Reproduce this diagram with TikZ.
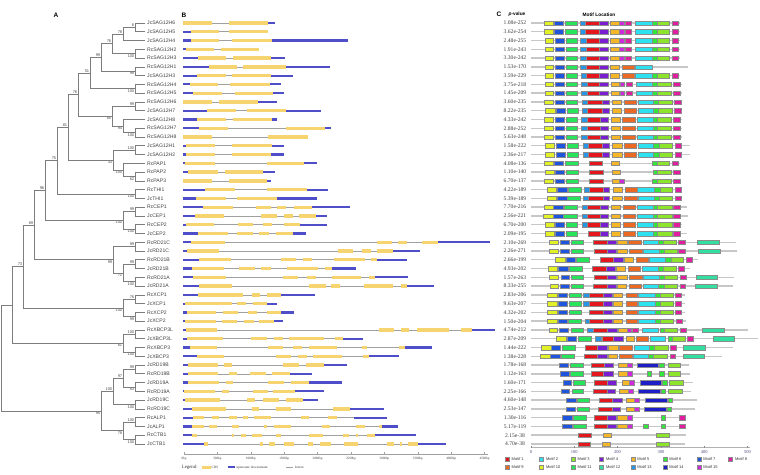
\documentclass[tikz,border=0pt]{standalone}
\usepackage{fontspec}
\setmainfont{Liberation Sans}
\newfontfamily\pvfont{Liberation Serif}
\usepackage{tikz}

\definecolor{treegray}{RGB}{125,125,125}
\definecolor{introngray}{RGB}{160,160,160}
\definecolor{utrblue}{RGB}{78,78,200}
\definecolor{cdsyellow}{RGB}{246,212,112}
\definecolor{mot1}{RGB}{228,22,30}
\definecolor{mot2}{RGB}{45,225,240}
\definecolor{mot3}{RGB}{140,228,45}
\definecolor{mot4}{RGB}{122,30,210}
\definecolor{mot5}{RGB}{245,182,40}
\definecolor{mot6}{RGB}{50,230,60}
\definecolor{mot7}{RGB}{30,85,220}
\definecolor{mot8}{RGB}{226,30,160}
\definecolor{mot9}{RGB}{236,105,35}
\definecolor{mot10}{RGB}{226,240,40}
\definecolor{mot11}{RGB}{40,228,90}
\definecolor{mot12}{RGB}{50,222,160}
\definecolor{mot13}{RGB}{40,150,228}
\definecolor{mot14}{RGB}{30,30,200}
\definecolor{mot15}{RGB}{208,40,220}

\begin{document}
\begin{tikzpicture}[
    x=1pt, y=-1pt,
    font=\fontsize{5.1}{6}\selectfont,
    branch/.style={draw=treegray, line width=0.7pt},
    leaf/.style={anchor=west, inner xsep=2pt, inner ysep=0pt, text=black!75},
    bs/.style={font=\fontsize{4}{4.5}\selectfont, inner sep=0.6pt, text=black!70},
    panel/.style={font=\fontsize{6.5}{7}\selectfont\bfseries, inner sep=0pt},
    head/.style={font=\fontsize{4.8}{5}\selectfont\bfseries, inner sep=0pt},
    intron/.style={draw=introngray, line width=0.6pt},
    utr/.style={draw=utrblue, line width=2.2pt},
    cds/.style={draw=cdsyellow, line width=3.3pt},
    pval/.style={font=\pvfont\fontsize{5.6}{6}\selectfont, text=black!75, inner sep=0pt},
    bpl/.style={font=\pvfont\fontsize{3.3}{4}\selectfont, text=black!75, inner sep=0pt},
    legl/.style={font=\pvfont\fontsize{3.4}{4}\selectfont, text=black!80, anchor=west, inner sep=0pt},
    mline/.style={draw=black!22, line width=1.4pt},
    mbox/.style={draw=black!45, line width=0.3pt},
    mleg/.style={font=\fontsize{4}{4.5}\selectfont, text=black!80, anchor=west, inner sep=0pt},
    axl/.style={font=\pvfont\fontsize{4.5}{5}\selectfont, text=blue!30!black!70, inner sep=0pt}
  ]
  \useasboundingbox[fill=white] (0,0) rectangle (760,474);

  % panel A: tree
  \node[panel] (lblA) at (56,15) {A};
  \foreach \nm [count=\i] in {JcSAG12H6,JcSAG12H5,JcSAG12H4,RcSAG12H2,RcSAG12H3,RcSAG12H1,JcSAG12H3,
      RcSAG12H4,RcSAG12H5,RcSAG12H6,JcSAG12H7,JcSAG12H8,RcSAG12H7,RcSAG12H8,JcSAG12H1,JcSAG12H2,
      RcPAP1,RcPAP2,RcPAP3,RcTHI1,JcTHI1,RcCEP1,JcCEP1,RcCEP2,JcCEP2,RcRD21C,JcRD21C,RcRD21B,JcRD21B,
      RcRD21A,JcRD21A,RcXCP1,JcXCP1,RcXCP2,JcXCP2,RcXBCP3L,JcXBCP3L,RcXBCP3,JcXBCP3,JcRD19B,RcRD19B,
      JcRD19A,RcRD19A,JcRD19C,RcRD19C,RcALP1,JcALP1,RcCTB1,JcCTB1}
    \node[leaf] (\nm) at (145,{23+(\i-1)*8.77}) {\nm};

  \foreach \n/\x/\y/\b/\an in {a1/135/27.4/6/south east, a2/123/34/78/south east, a3/135/53.7/100/north east,
      a4/112/43.8/76/south east, a5/135/71.3/99/north east, a6/101/57.5/99/south east,
      a7/135/88.8/100/north east, a8/90/73.2/51/south east, b1/135/106.3/99/south east,
      b2/135/132.6/100/north east, b3/123/126/94/north east, b4/112/116.2/85/north east,
      ab/78/94.7/76/south east, c1/135/150.2/100/south east, d1/135/176.5/62/north east,
      d2/123/169.9/100/north east, cd/113/160.1/33/north east, abcd/68/127.4/81/south east,
      t1/135/194/100/north east, abt/57/160.7/75/south east, e1/135/211.6/99/south east,
      e2/135/229.1/100/north east, e3/123/220.3/100/north east, abte/45/190.5/96/south east,
      f1/135/246.7/99/south east, f2/135/264.2/99/south east, f3/135/281.7/100/north east,
      f4/123/273/71/north east, f5/113/259.8/99/north east, g1/34/225.2/69/south east,
      h1/135/299.3/76/south east, h2/135/316.8/99/north east, h3/123/308/100/north east,
      g2/23/266.6/73/south east, i1/135/334.3/100/south east, i2/135/351.9/100/north east,
      i3/123/343.1/61/north east, j1/135/369.4/99/south east, j2/135/387/83/north east,
      j3/123/378.2/97/south east, j4/135/404.5/100/north east, j5/113/391.4/100/south east,
      k1/135/422/100/south east, k2/135/439.6/100/north east, k3/123/430.8/78/north east,
      jk/101/411.1/95/north east}
    \path (\x,\y) coordinate (\n) node[bs, anchor=\an] (bs\n) {\b};
  \coordinate (g3) at (12,304.9);
  \coordinate (root) at (1,358);

  \foreach \p/\c in {a1/JcSAG12H6, a1/JcSAG12H5, a2/a1, a2/JcSAG12H4, a3/RcSAG12H2, a3/RcSAG12H3,
      a4/a2, a4/a3, a5/RcSAG12H1, a5/JcSAG12H3, a6/a4, a6/a5, a7/RcSAG12H4, a7/RcSAG12H5, a8/a6, a8/a7,
      b1/RcSAG12H6, b1/JcSAG12H7, b2/RcSAG12H7, b2/RcSAG12H8, b3/JcSAG12H8, b3/b2, b4/b1, b4/b3,
      ab/a8, ab/b4, c1/JcSAG12H1, c1/JcSAG12H2, d1/RcPAP2, d1/RcPAP3, d2/RcPAP1, d2/d1, cd/c1, cd/d2,
      abcd/ab, abcd/cd, t1/RcTHI1, t1/JcTHI1, abt/abcd, abt/t1, e1/RcCEP1, e1/JcCEP1, e2/RcCEP2,
      e2/JcCEP2, e3/e1, e3/e2, abte/abt, abte/e3, f1/RcRD21C, f1/JcRD21C, f2/RcRD21B, f2/JcRD21B,
      f3/RcRD21A, f3/JcRD21A, f4/f2, f4/f3, f5/f1, f5/f4, g1/abte, g1/f5, h1/RcXCP1, h1/JcXCP1,
      h2/RcXCP2, h2/JcXCP2, h3/h1, h3/h2, g2/g1, g2/h3, i1/RcXBCP3L, i1/JcXBCP3L, i2/RcXBCP3,
      i2/JcXBCP3, i3/i1, i3/i2, g3/g2, g3/i3, j1/JcRD19B, j1/RcRD19B, j2/JcRD19A, j2/RcRD19A, j3/j1,
      j3/j2, j4/JcRD19C, j4/RcRD19C, j5/j3, j5/j4, k1/RcALP1, k1/JcALP1, k2/RcCTB1, k2/JcCTB1,
      k3/k1, k3/k2, jk/j5, jk/k3, root/g3, root/jk}
    \draw[branch] (\p) |- (\c);

  % panel B: gene structures
  \node[panel, anchor=west] (lblB) at (181.5,15) {B};
  \foreach \i/\e/\segs in {
      1/275/{cds/183.3/211.7,cds/229/267.7,utr/267.7/275},
      2/267.7/{utr/183.3/191,cds/191/219.3,cds/229/267.7},
      3/348.3/{utr/183.3/190.7,cds/190.7/219,cds/232.3/271.7,utr/271.7/348.3},
      4/259/{utr/183.3/186,cds/186/214.3,cds/220.7/259},
      5/285.3/{utr/183.3/198.3,cds/198.3/226,cds/232.7/271,utr/271/285.3},
      6/330/{utr/183.3/209.3,cds/209.3/237.3,cds/243.3/286,utr/286/330},
      7/292.7/{utr/183.3/197.3,cds/197.3/226,cds/232.3/271,utr/271/292.7},
      8/280.7/{utr/183.3/190,cds/190/218.3,cds/230/270,utr/270/280.7},
      9/284.3/{utr/183.3/193.3,cds/193.3/221.7,cds/235/273.3,utr/273.3/284.3},
      10/277/{cds/183.3/211.7,cds/219.3/257.7,utr/257.7/277},
      11/321/{utr/183.3/207.3,cds/207.3/236,cds/246.7/286,utr/286/321},
      12/276.7/{utr/183.3/196.7,cds/196.7/225.7,cds/232.7/271.7,utr/271.7/276.7},
      13/330.7/{utr/183.3/199,cds/199/227.7,cds/286/325,utr/325/330.7},
      14/307.7/{cds/183.3/211.7,cds/268.3/307.7},
      15/284/{utr/183.3/186,cds/186/215.3,cds/232.3/271.7,utr/271.7/284},
      16/284/{utr/183.3/186,cds/186/215.3,cds/231.7/271,utr/271/284},
      17/316.7/{utr/183.3/184.7,cds/184.7/214.7,cds/266.7/304.3,utr/304.3/316.7},
      18/275/{utr/183.3/188.3,cds/188.3/217.7,cds/225/262.7,utr/262.7/275},
      19/270.7/{cds/183.3/212.3,cds/229.3/267.3,utr/267.3/270.7},
      20/327.7/{utr/183.3/205,cds/205/235,cds/267.3/306.7,utr/306.7/327.7},
      21/317.3/{utr/183.3/196,cds/196/225.7,cds/237.3/277.3,utr/277.3/317.3},
      22/350/{utr/183.3/203.3,cds/203.3/232.7,cds/256/271,cds/277.3/286,cds/294.3/311.7,utr/311.7/350},
      23/327.3/{utr/183.3/195,cds/195/224,cds/261/276.7,cds/284.3/293.3,cds/299/316,utr/316/327.3},
      24/327.3/{utr/183.3/186,cds/186/214.3,cds/238.3/253.3,cds/262.7/272.3,cds/284/300,utr/300/327.3},
      25/305.7/{utr/183.3/198.3,cds/198.3/227.7,cds/236.7/252.7,cds/259.3/269.3,cds/276/292.7,utr/292.7/305.7},
      26/490/{utr/183.3/191,cds/191/225,cds/376.7/391.7,cds/398.3/406.7,cds/422.3/438.3,utr/438.3/490},
      27/420/{utr/183.3/187.3,cds/187.3/219.3,cds/338.3/353.3,cds/361.7/370.7,cds/377.3/393.3,utr/393.3/420},
      28/406.7/{utr/183.3/199.3,cds/199.3/230.7,cds/281/296,cds/302.7/311.7,cds/334.3/365,cds/371/376.7,utr/376.7/406.7},
      29/356/{utr/183.3/191.7,cds/191.7/224,cds/239.3/255,cds/261/270.7,cds/287.3/318.3,cds/325/331.7,utr/331.7/356},
      30/407.7/{utr/183.3/193.3,cds/193.3/225.7,cds/282.7/298.3,cds/306.7/316,cds/331.7/361,cds/369.3/375,utr/375/407.7},
      31/434.3/{utr/183.3/199.3,cds/199.3/232,cds/309.3/326,cds/331/340,cds/364.3/393.3,cds/401/407.3,utr/407.3/434.3},
      32/315/{utr/183.3/198.3,cds/198.3/243.3,cds/251.7/260,cds/267.3/280.7,utr/280.7/315},
      33/276.7/{utr/183.3/185,cds/185/231.7,cds/236.7/246,cds/252.7/267.3,utr/267.3/276.7},
      34/294/{utr/183.3/186.7,cds/186.7/216,cds/222.7/238.3,cds/247.7/256.7,cds/267.3/281,utr/281/294},
      35/282.7/{utr/183.3/185,cds/185/215.7,cds/221.7/237.3,cds/244.3/254,cds/259.3/274,utr/274/282.7},
      36/495/{utr/183.3/186,cds/186/217.3,cds/379.3/394,cds/401/409.3,cds/417.3/449.3,cds/461/472,utr/472/495},
      37/363.3/{utr/183.3/187.3,cds/187.3/223.3,cds/251/266.7,cds/274/282.7,cds/289.3/324,cds/335/343.3,utr/343.3/363.3},
      38/431.7/{utr/183.3/190,cds/190/216.7,cds/268.3/283.3,cds/293.3/302.3,cds/309.3/336.7,cds/361.7/367.3,cds/399.3/405,utr/405/431.7},
      39/399.3/{utr/183.3/196.7,cds/196.7/224.3,cds/276/291,cds/297.7/306.7,cds/313.3/342.3,cds/362.7/369,utr/369/399.3},
      40/347.3/{utr/183.3/188.3,cds/188.3/218.3,cds/224.3/231.7,cds/283.3/299,cds/305.7/324,utr/324/347.3},
      41/311.7/{utr/183.3/188.3,cds/188.3/217.7,cds/229.3/236.7,cds/250/266,cds/272.3/290,utr/290/311.7},
      42/341.7/{utr/183.3/188.3,cds/188.3/219.3,cds/226/233.3,cds/268.3/284.3,cds/291/309.3,utr/309.3/341.7},
      43/324/{utr/183.3/184,cds/184/215,cds/221.7/229.3,cds/253.3/268.3,cds/272.7/295,utr/295/324},
      44/318.3/{utr/183.3/185,cds/185/220,cds/246.7/255,cds/263.3/279,cds/286/303.3,utr/303.3/318.3},
      45/384/{utr/183.3/191.7,cds/191.7/225.7,cds/251.7/259.3,cds/275.7/290.7,cds/332.7/350,utr/350/384},
      46/386.7/{utr/183.3/192.7,cds/192.7/204,cds/211.7/219.3,cds/229.3/237.3,cds/243.3/248.3,cds/254/271,cds/301/309.3,cds/328.3/337.3,utr/354/386.7},
      47/398.3/{utr/183.3/191.7,cds/191.7/204,cds/209.3/217.3,cds/232.3/239.3,cds/264/267.3,cds/274/291,cds/322.3/330,cds/356/365,cds/379.3/381.7,utr/381.7/398.3},
      48/415.7/{utr/183.3/191.7,cds/191.7/196.7,cds/231.7/234.3,cds/241/246,cds/252.3/261.7,cds/276/281,cds/309.3/322.7,cds/343.3/349.3,cds/356/358.3,cds/366.7/375,utr/375/415.7},
      49/446/{utr/183.3/204,cds/204/207.7,cds/260/263.3,cds/269.3/275,cds/284/294.3,cds/307.7/312.7,cds/320/331,cds/344.3/358.3,cds/386.7/394,cds/400/401.7,cds/408.3/417.7,utr/417.7/446}}
  {
    \pgfmathsetmacro\yy{23+(\i-1)*8.77}
    \draw[intron] (183.3,\yy) -- (\e,\yy);
    \foreach \t/\a/\b in \segs \draw[\t] (\a,\yy) -- (\b,\yy);
  }

  % bp scale and legend
  \draw[introngray, line width=0.5pt] (184,454) -- (488,454);
  \foreach \k in {0,...,9} {
    \pgfmathtruncatemacro\bp{500*\k}
    \draw[introngray, line width=0.4pt] ({184+33.4*\k},452) -- ({184+33.4*\k},454);
    \node[bpl] (bp\k) at ({184+33.4*\k},458.3) {\bp bp};
  }
  \node[legl, font=\pvfont\fontsize{4.8}{5}\selectfont] (legB) at (181.7,467.3) {Legend:};
  \draw[cds] (201.7,467.3) -- (210.7,467.3);
  \node[legl] (legcds) at (211.5,467.3) {CDS};
  \draw[utr] (227.7,467.3) -- (235,467.3);
  \node[legl] (legutr) at (236.5,467.3) {upstream/ downstream};
  \draw[intron] (286,467.3) -- (293.3,467.3);
  \node[legl] (legintron) at (295,467.3) {Intron};

  % panel C: p-values and motifs
  \node[panel, anchor=west] (lblC) at (496.5,14.5) {C};
  \node[head] (pvhead) at (517,14.5) {\textit{p}-value};
  \node[head] (mlhead) at (599,14.5) {Motif Location};
  \foreach \pv [count=\i] in {1.08e-252,3.62e-254,2.48e-255,1.91e-243,3.30e-242,1.53e-170,3.59e-229,
      3.75e-218,1.45e-209,3.60e-235,8.22e-235,4.33e-242,2.88e-252,5.63e-248,1.58e-222,2.36e-217,
      4.08e-136,1.10e-140,6.70e-137,4.22e-189,5.39e-189,7.70e-216,2.56e-221,6.70e-200,2.09e-195,
      2.10e-269,2.26e-271,2.66e-199,4.93e-202,1.57e-263,8.33e-255,2.83e-206,9.63e-207,4.32e-202,
      1.50e-204,4.74e-212,2.87e-209,1.44e-222,1.38e-228,1.78e-168,1.12e-163,1.60e-171,2.25e-166,
      4.60e-148,2.53e-147,1.30e-116,5.17e-119,2.15e-38,4.70e-38}
    \node[pval] (pv\i) at (515,{23+(\i-1)*8.77}) {\pv};

  \foreach \i/\e/\mots in {
      1/680/{10/544/553.3,7/554.3/563.3,11/565/577.3,13/580/585,1/585/599.3,4/599.3/608.3,5/610/619,15/619/624,8/625/631,2/635/651.7,6/651.7/656.7,3/656.7/669.3,8/671.7/678.3},
      2/680/{10/544/553.3,7/554.3/563.3,11/565/577.3,13/580/585,1/585/599.3,4/599.3/608.3,5/610/619,15/619/624,8/625/631,2/635/651.7,6/651.7/656.7,3/656.7/669.3,8/671.7/678.3},
      3/680/{10/545/553.3,7/555/564,11/565.7/577.3,13/580/585.7,1/585.7/599.3,4/599.3/608.3,5/610/619.3,15/619.3/624,8/625/631,2/635/651.7,6/651.7/656.7,3/656.7/669.3,8/671.7/678.3},
      4/680/{10/545/553.3,7/555/564,11/565.7/577.3,13/580/585.7,1/585.7/599.3,4/599.3/608.3,5/610/619.3,15/619.3/624,8/625/631,2/635/651.7,6/651.7/656.7,3/656.7/669.3,8/671.7/678.3},
      5/680/{10/545/553.3,7/555/564,11/565.7/577.3,13/580/585.7,1/585.7/599.3,4/599.3/608.3,5/610/619.3,15/619.3/624,8/625/631,2/635/651.7,6/651.7/656.7,3/656.7/669.3,8/671.7/678.3},
      6/688/{10/545/553.3,7/555/564,11/565.7/577.3,13/580/585.7,1/585.7/599.3,4/599.3/608.3,5/610/619,9/621.7/634,2/635/651.7},
      7/680/{10/545/553.3,7/555/564,11/565.7/577.3,13/581/586,1/586/599.3,4/599.3/608.3,5/610/619,9/621.7/634,2/635/651.7,6/651.7/656.7,3/656.7/669.3,8/671.7/678.3},
      8/682/{10/545/553.3,7/555/564,11/565.7/577.3,13/581/586.7,1/586.7/599.3,4/599.3/608.3,5/610.7/619.3,15/620/624,8/626/631.7,2/636/652.3,6/652.3/657.3,3/657.3/671,8/673.3/680},
      9/682/{10/545/553.3,7/555/564,11/565.7/577.3,13/581/586.7,1/586.7/599.3,4/599.3/608.3,5/610.7/619.3,15/620/624,8/626/631.7,2/636/652.3,6/652.3/657.3,3/657.3/671,8/673.3/680},
      10/682/{10/544/553.3,7/555/564,11/565.7/577.3,13/581.7/587.3,1/587.3/601.7,4/601.7/609.3,5/612.3/620.7,9/624/635.7,2/638.3/653.3,6/653.3/658.3,3/658.3/671.7,8/674/680.7},
      11/682/{10/545/555,7/556/565,11/566.7/578.3,13/582.3/587.3,1/587.3/601.7,4/601.7/609.3,5/612.3/620.7,9/624/635.7,2/638.3/653.3,6/653.3/658.3,3/658.3/671.7,8/674/680.7},
      12/682/{10/544/553.3,7/555/564,11/565.7/577.3,13/581/586.7,1/586.7/600,4/600/608.3,5/611/620,9/622.3/635,2/636.7/653.3,6/653.3/657.3,3/657.3/671,8/673.3/680},
      13/682/{10/544/553.3,7/555/564,11/565.7/577.3,13/581/586.7,1/586.7/600,4/600/608.3,5/611/620,9/622.3/635,2/636.7/653.3,6/653.3/657.3,3/657.3/671,8/673.3/680},
      14/682/{10/544/553.3,7/555/564,11/565.7/577.3,13/581/586.7,1/586.7/600,4/600/608.3,5/611/620,9/622.3/635,2/636.7/653.3,6/653.3/657.3,3/657.3/671,8/673.3/680},
      15/690/{10/545/554,7/556/565,11/566.7/578.3,13/582.7/588.3,1/588.3/601.7,4/601.7/609.3,5/612.3/621.7,9/624/636,2/638.3/653.3,6/653.3/659,3/659/671.7,8/675/680.7},
      16/690/{10/545/554,7/556/565,11/566.7/578.3,13/582.7/588.3,1/588.3/601.7,4/601.7/609.3,5/612.3/621.7,9/624/636,2/638.3/653.3,6/653.3/659,3/659/671.7,8/675/680.7},
      17/680/{10/544/553.3,7/554/563.3,11/565/577.7,1/589.3/601.7,5/610.7/619,6/651.7/656.7,3/656.7/669.3,8/672.3/678.3},
      18/681/{10/545/554,7/555/564.3,11/566/578.3,1/589.3/602.7,5/611.7/620,6/652.7/657.3,3/657.3/670.7,8/673.3/680},
      19/681/{10/544/553.3,7/555/564.3,11/566/578.3,1/589.3/602.7,5/611.7/619.3,15/619.3/624,6/652.3/657.3,3/657.3/670.7,8/673.3/680},
      20/682/{10/546.7/556,7/557.3/566.7,11/567.7/580.7,13/584/589,1/589/602.7,4/602.7/609.3,5/613.3/622.3,9/625/637.3,2/637.3/654,6/654/660,3/660/671.7,8/675/680.7},
      21/682/{10/546.7/556,7/556.7/566.7,11/567.3/580,13/583.3/588.3,1/588.3/602.7,4/602.7/609.3,5/612.3/621.7,9/624/636.7,2/638.3/654,6/654/659.3,3/659.3/671.7,8/675/680.7},
      22/687/{10/544/553.3,7/553.3/563.3,11/564.3/576.7,13/581.7/586.7,1/587.3/600,4/600/608.3,5/610.7/620,9/623.3/635,2/636.7/653.3,6/653.3/657.3,3/657.3/671.7,8/673.3/680},
      23/688/{10/543.3/553.3,7/553.3/562.7,11/563.3/576.7,13/581.7/586.7,1/587.3/600,4/600/608.3,5/610.7/620,9/623.3/635,2/636.7/653.3,6/653.3/657.3,3/657.3/671.7,8/673.3/680},
      24/682/{10/545/554,7/555/564,11/565.7/577.3,13/581.7/586.7,1/587.3/600,4/600/608.3,5/610.7/620,9/623.3/635,2/636.7/653.3,6/653.3/657.3,3/657.3/671.7,8/673.3/680},
      25/687/{10/545/554,7/555/564,11/565.7/577.3,1/588.3/600,4/600/608.3,5/610.7/620,9/623.3/635,2/636.7/653.3,6/653.3/657.3,3/657.3/671.7,8/673.3/680},
      26/736/{10/549/558.3,7/560/569,11/570.7/582.7,1/593.3/606.7,4/606.7/615.7,5/617.3/626.7,9/628.3/641,2/642.7/658.3,6/658.3/663.3,3/663.3/676,8/678.3/685,12/697.3/719.3},
      27/736.7/{10/549/558.3,7/560/569,11/570.7/582.7,1/594/606.7,4/606.7/615.7,5/617.3/626.7,9/629.3/641.7,2/642.7/659,6/659/664,3/664/676.7,8/678.3/685,12/698.3/720},
      28/697.7/{10/555/565,7/566/575,11/576/589.3,1/600/613.3,4/613.3/622.7,5/624.3/632.7,9/635.7/647.7,2/649.3/665,6/665/670.7,3/670.7/683.3,8/686/692},
      29/690/{10/548.3/557.3,7/558.3/567.7,11/569/581.7,1/591.7/606,4/606/615,5/616/625,9/627.7/640,2/641.7/657.7,6/657.7/662.7,3/662.7/676,8/678.3/684.3},
      30/734/{10/549/558.3,7/560.7/569.3,11/570.7/582.7,1/594/606.7,4/606.7/615.7,5/617.3/626.7,9/629.3/641.7,2/643.3/659,6/659/664.3,3/664.3/677.3,8/680/686,12/696/717.3},
      31/732.7/{10/550/558.3,7/560/569,11/570.7/582.7,1/593.3/606.7,4/606.7/615.7,5/617.3/626,9/629/640.7,2/642.7/658.3,6/658.3/664.3,3/664.3/677.3,8/680/685,12/695/716.7},
      32/685/{10/547.3/556.7,7/558.3/566.7,11/568.7/580.7,13/582.7/589,1/589/602.7,4/602.7/611.7,5/613.3/622.3,9/625.7/637.3,2/638.3/655,6/655/660,3/660/672.7,8/675/681},
      33/685/{10/547.3/556.7,7/558.3/566.7,11/568.7/580.7,13/582.7/589,1/589/602.7,4/602.7/611.7,5/613.3/622.3,9/625.7/637.3,2/638.3/655,6/655/660,3/660/672.7,8/675/681},
      34/685/{10/547.3/556.7,7/558.3/566.7,11/568.7/580.7,1/589/602.7,4/602.7/611.7,5/613.3/622.3,9/625.7/637.3,2/638.3/655,6/655/660,3/660/672.7,8/675/681},
      35/686/{10/547.3/556.7,7/558.3/566.7,11/568.3/580.7,13/585/589,1/589/602.7,4/602.7/611.7,5/613.3/622.3,9/625.7/637.3,2/638.3/655,6/655/660,3/660/672.7,8/675.7/681.7},
      36/748.3/{10/549/557.3,7/559/567.7,11/570.7/583.3,13/587.3/593.3,1/593.3/606.7,4/606.7/616.7,5/618.3/626.7,15/626.7/631,8/631.7/637.7,2/641.7/657.7,6/660/664,3/664/677.3,8/680/686,12/702.3/724},
      37/758.3/{10/556/566,7/566.7/576,11/578.3/590.7,13/595/600.7,1/601.7/613.3,4/613.3/623.3,5/625.7/634,9/636/648.3,2/650/665,6/668.3/671.7,3/671.7/685,8/687.3/693.3,12/712.7/734},
      38/733.3/{10/541/550.7,7/550.7/560,11/562.3/575,1/585/597.3,4/597.3/607.3,5/608.3/617.7,9/619.3/632.3,2/634.3/649.3,6/649.3/654.3,3/654.3/667.7,8/670/675.7,12/683.3/705},
      39/721.7/{10/540/550,7/550/560,11/561/574,1/584/596.7,4/596.7/606.7,5/607.7/616.7,9/619/631.7,2/633.3/648.3,6/648.3/653.3,3/653.3/666.7,8/670/675,12/683.3/704},
      40/689.3/{7/559.3/568.3,11/570/582.7,1/590.7/604,4/604/612.7,5/618.3/626.7,15/627.3/631.7,14/637.3/657.7,6/659.3/664,3/667.7/680},
      41/690/{7/560/569.3,11/570/582.7,1/590.7/603.3,4/603.3/613.3,5/618.3/626.7,15/627.3/631.7,6/646.7/650.7,6/659.3/664,3/667.7/680},
      42/692.7/{7/562.7/570.7,11/572.7/585,1/594/607.3,4/607.3/616,5/621.7/629.3,15/629.3/634.3,14/640/661,6/661.7/666.7,3/669.3/682.7},
      43/690.7/{7/560.7/569.3,11/571.7/583.3,1/592.7/606.7,4/606.7/615,5/619.3/627.7,15/627.7/632.7,14/638.3/660,6/660.7/665,3/668.3/681.7},
      44/696.7/{7/566/576,11/577.3/589.3,1/599.3/612.3,4/612.3/621.7,5/626/634.3,15/634.3/639.3,14/645/666.7,6/667.7/671.7},
      45/695/{7/566/575,11/576.7/589,1/598.3/611.7,4/611.7/620,5/625.7/634.3,15/634.3/639,14/644/665.7,6/666.7/671},
      46/686/{7/562.3/571.7,11/573.3/585.7,1/594/607.3,4/607.3/616,5/617.3/626.7,15/626.7/631.7,6/660.7/665,8/679/685},
      47/686/{7/562.3/571.7,11/573.3/585.7,1/594/607.3,4/607.3/616,5/617.3/626.7,15/626.7/631.7,6/643.3/647.7,6/660.7/665,8/679/685},
      48/686/{1/577.7/590.7,5/602.7/611,3/656/669.3},
      49/685/{1/577.7/590,5/601.7/610,3/656/669.3}}
  {
    \pgfmathsetmacro\yy{23+(\i-1)*8.77}
    \draw[mline] (531,\yy) -- (\e,\yy);
    \foreach \k/\a/\b in \mots \draw[mbox, fill=mot\k] (\a,\yy-2.2) rectangle (\b,\yy+2.2);
  }

  % motif scale and legend
  \draw[black!30, line width=0.4pt] (531,447.5) -- (750,447.5);
  \foreach \t/\lab in {0/0,1/100,2/200,3/300,4/400,5/500} {
    \draw[black!45, line width=0.4pt] ({531+43.3*\t},446) -- ({531+43.3*\t},447.5);
    \node[axl] (mx\t) at ({531+43.3*\t},452.3) {\lab};
  }
  \foreach \k/\lx/\ly in {1/505/459, 2/539.3/459, 3/571/459, 4/599.3/459, 5/630.7/459, 6/662.7/459,
      7/696.7/459, 8/728.3/459, 9/505/467.3, 10/539.3/467.3, 11/571/467.3, 12/599.3/467.3,
      13/630.7/467.3, 14/662.7/467.3, 15/696.7/467.3} {
    \draw[mbox, fill=mot\k] (\lx,\ly-2) rectangle ({\lx+4},\ly+2);
    \node[mleg] (ml\k) at ({\lx+6.5},\ly) {Motif \k};
  }
\end{tikzpicture}
\end{document}
